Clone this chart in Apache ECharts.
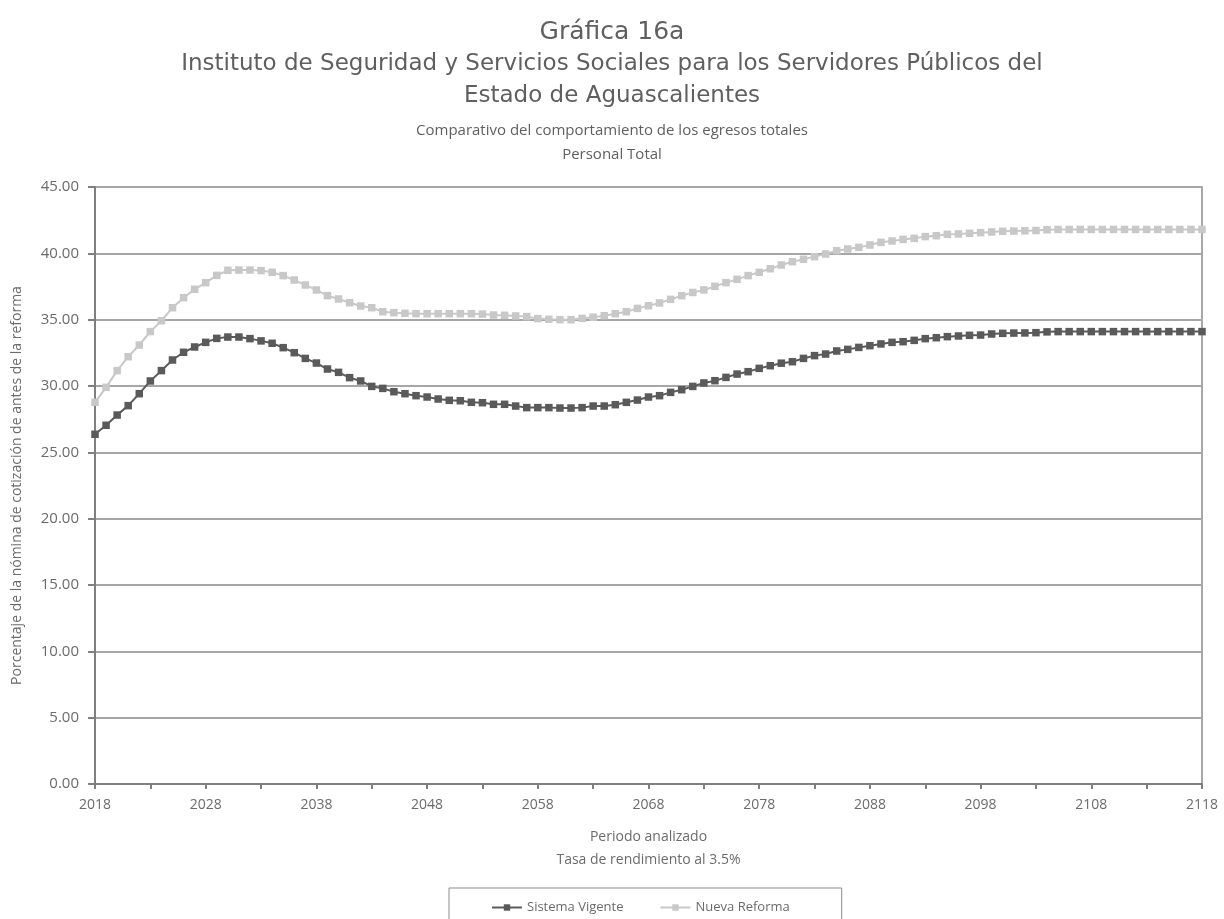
<!DOCTYPE html>
<html>
<head>
<meta charset="utf-8">
<script src="https://cdn.jsdelivr.net/npm/echarts@6/dist/echarts.min.js"></script>
<style>
html,body{margin:0;padding:0;background:#fff;}
#chart{width:1224px;height:919px;}
</style>
</head>
<body>
<div id="chart"></div>
<script>
// ---- Data ----
var years = [];
for (var y = 2018; y <= 2118; y++) { years.push(String(y)); }

var sistemaVigente = [
  26.36, 27.04, 27.81, 28.52, 29.42, 30.38, 31.16, 31.96, 32.54, 32.94,
  33.29, 33.59, 33.69, 33.69, 33.57, 33.40, 33.22, 32.89, 32.51, 32.08,
  31.73, 31.28, 31.03, 30.63, 30.38, 29.97, 29.82, 29.57, 29.42, 29.27,
  29.17, 29.02, 28.92, 28.89, 28.77, 28.74, 28.62, 28.62, 28.49, 28.37,
  28.37, 28.37, 28.34, 28.34, 28.37, 28.49, 28.49, 28.59, 28.77, 28.94,
  29.17, 29.27, 29.52, 29.72, 29.97, 30.23, 30.40, 30.65, 30.90, 31.08,
  31.33, 31.53, 31.72, 31.83, 32.08, 32.29, 32.41, 32.64, 32.76, 32.91,
  33.04, 33.17, 33.29, 33.34, 33.44, 33.57, 33.64, 33.72, 33.77, 33.82,
  33.84, 33.92, 33.97, 33.99, 34.00, 34.02, 34.08, 34.10, 34.10, 34.10,
  34.10, 34.10, 34.10, 34.10, 34.10, 34.10, 34.10, 34.10, 34.10, 34.10,
  34.10
];

var nuevaReforma = [
  28.77, 29.90, 31.16, 32.21, 33.09, 34.10, 34.92, 35.90, 36.66, 37.29,
  37.79, 38.34, 38.72, 38.74, 38.74, 38.70, 38.57, 38.32, 37.99, 37.61,
  37.24, 36.81, 36.56, 36.28, 36.03, 35.90, 35.60, 35.53, 35.48, 35.45,
  35.45, 35.45, 35.45, 35.45, 35.45, 35.42, 35.35, 35.33, 35.28, 35.23,
  35.08, 35.03, 35.00, 35.00, 35.10, 35.18, 35.30, 35.45, 35.60, 35.85,
  36.05, 36.26, 36.53, 36.81, 37.05, 37.24, 37.51, 37.79, 38.04, 38.32,
  38.57, 38.84, 39.12, 39.37, 39.55, 39.75, 39.95, 40.20, 40.33, 40.45,
  40.63, 40.83, 40.93, 41.05, 41.13, 41.26, 41.33, 41.43, 41.46, 41.51,
  41.56, 41.61, 41.66, 41.68, 41.70, 41.72, 41.78, 41.80, 41.80, 41.80,
  41.80, 41.80, 41.80, 41.80, 41.80, 41.80, 41.80, 41.80, 41.80, 41.80,
  41.80
];

var titleLines = [
  "Gráfica 16a",
  "Instituto de Seguridad y Servicios Sociales para los Servidores Públicos del",
  "Estado de Aguascalientes",
  "Comparativo del comportamiento de los egresos totales",
  "Personal Total"
];
var seriesNames = ["Sistema Vigente", "Nueva Reforma"];
var yAxisName = "Porcentaje de la nómina de cotización de antes de la reforma";
var xAxisName = "Periodo analizado\nTasa de rendimiento al 3.5%";

// ---- Chart ----
var FONT = "Open Sans";
var TXT = "#6b6b6b";
var chart = echarts.init(document.getElementById('chart'), null, {renderer: 'canvas'});

var titleTops = [15, 48, 80, 118, 142];
var titleSizes = [25, 23, 23, 15, 15];
var titleFonts = ["DejaVu Sans", "DejaVu Sans", "DejaVu Sans", FONT, FONT];
var titles = titleLines.map(function (t, i) {
  return {
    text: t,
    left: 'center',
    top: titleTops[i],
    textStyle: {fontFamily: titleFonts[i], fontSize: titleSizes[i], fontWeight: 'normal', color: '#5f5f5f'}
  };
});

chart.setOption({
  animation: false,
  backgroundColor: '#ffffff',
  title: titles,
  grid: {
    left: 95, right: 22, top: 187, bottom: 135,
    show: true, borderColor: '#8c8c8c', borderWidth: 1.5,
    containLabel: false
  },
  legend: {
    data: seriesNames,
    left: 449,
    top: 888,
    width: 384,
    padding: [13, 52, 30, 42],
    itemGap: 36,
    itemWidth: 30,
    itemHeight: 8,
    borderColor: '#8c8c8c',
    borderWidth: 1,
    textStyle: {fontFamily: FONT, fontSize: 13, color: TXT}
  },
  xAxis: {
    type: 'category',
    data: years,
    boundaryGap: false,
    name: xAxisName,
    nameLocation: 'middle',
    nameGap: 42,
    nameTextStyle: {fontFamily: FONT, fontSize: 14, color: TXT, lineHeight: 23},
    axisLine: {lineStyle: {color: '#7f7f7f', width: 2}},
    axisTick: {show: true, interval: 4, length: 5, lineStyle: {color: '#7f7f7f', width: 2}},
    axisLabel: {interval: 9, margin: 14, fontFamily: FONT, fontSize: 14, color: TXT},
    splitLine: {show: false}
  },
  yAxis: {
    type: 'value',
    min: 0, max: 45, interval: 5,
    name: yAxisName,
    nameLocation: 'middle',
    nameGap: 71,
    nameTextStyle: {fontFamily: FONT, fontSize: 14, color: TXT},
    axisLine: {show: true, lineStyle: {color: '#7f7f7f', width: 2}},
    axisTick: {show: true, length: 7, lineStyle: {color: '#7f7f7f', width: 2}},
    axisLabel: {margin: 16, fontFamily: FONT, fontSize: 15, color: TXT,
      formatter: function (v) { return v.toFixed(2); }},
    splitLine: {show: true, lineStyle: {color: '#a6a6a6', width: 2}}
  },
  series: [
    {
      name: seriesNames[0],
      type: 'line',
      data: sistemaVigente,
      symbol: 'rect',
      symbolSize: 7.5,
      showAllSymbol: true,
      lineStyle: {color: '#5a5a5a', width: 2},
      itemStyle: {color: '#5a5a5a'}
    },
    {
      name: seriesNames[1],
      type: 'line',
      data: nuevaReforma,
      symbol: 'rect',
      symbolSize: 7.5,
      showAllSymbol: true,
      lineStyle: {color: '#c8c8c8', width: 2},
      itemStyle: {color: '#c8c8c8'}
    }
  ]
});
</script>
</body>
</html>
